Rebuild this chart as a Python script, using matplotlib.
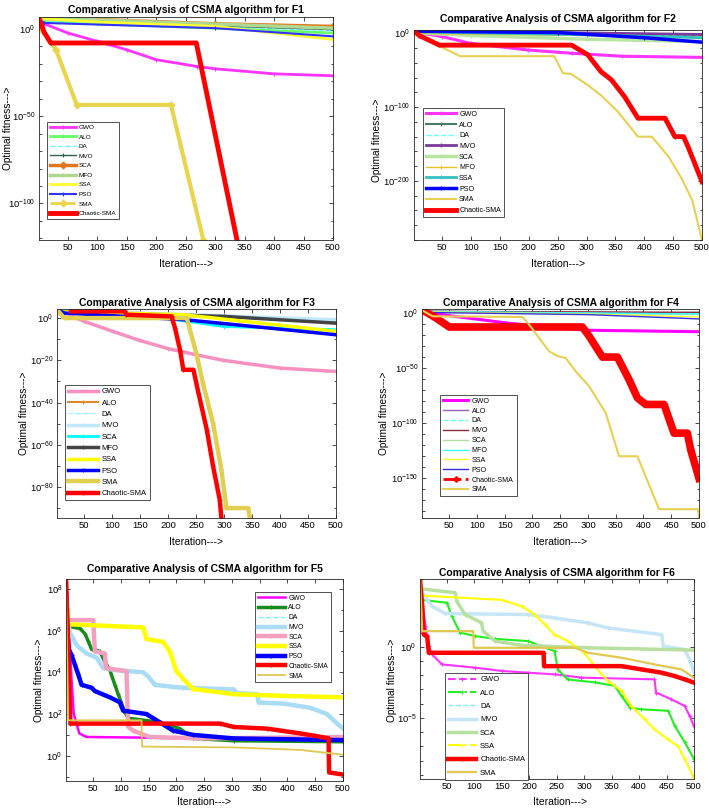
import numpy as np
import matplotlib
matplotlib.use('Agg')
import matplotlib.pyplot as plt
import matplotlib.ticker as ticker

plt.rcParams['font.family'] = ['Liberation Sans', 'DejaVu Sans']
plt.rcParams['axes.linewidth'] = 0.6

W, H = 709, 808

# ---- data: (iteration, log10 fitness) breakpoints ----
# F1
f1_gwo = ([1, 10, 50, 100, 150, 200, 270, 300, 400, 500], [5.5, 3, -2.3, -7, -11.9, -17.6, -21.5, -22.8, -25.7, -26.8])
f1_alo = ([1, 100, 300, 500], [5, 3, 0.5, -2.3])
f1_da = ([1, 200, 500], [5, 2.5, -1])
f1_mvo = ([1, 200, 500], [6, 3, -0.4])
f1_sca = ([1, 100, 300, 500], [6.5, 5.5, 3, 1.5])
f1_mfo = ([1, 200, 500], [6.5, 4, 0.5])
f1_ssa = ([1, 100, 300, 500], [6, 4, 1.5, -6])
f1_pso = ([1, 10, 300, 500], [6, 3.5, 0.5, -4.2])
f1_sma = ([1, 5, 30, 65, 225, 280], [6, 0, -12, -43.5, -43.5, -121])
f1_csma = ([1, 10, 21, 268, 337], [6, -2, -8, -8, -121])

# F2
f2_gwo = ([1, 50, 99, 198, 274, 361, 500], [2, -4.5, -13.6, -22.6, -27, -31, -32.6])
f2_alo = ([1, 250, 500], [2, 0, -3])
f2_da = ([1, 500], [2, -4])
f2_mvo = ([1, 250, 500], [2.5, 1, -1.5])
f2_sca = ([1, 100, 300, 500], [1, -3, -8, -11])
f2_mfo = ([1, 500], [0, -5])
f2_ssa = ([1, 300, 500], [2, -2, -6])
f2_pso = ([1, 250, 400, 500], [3, 1, -6, -12])
f2_sma = ([1, 35, 81, 244, 259, 273, 302, 325, 354, 389, 413, 442, 465, 483, 500],
          [2, -13.6, -31, -31, -54, -55, -70, -84, -106, -140, -140, -167, -197, -226, -280])
f2_csma = ([1, 10, 45, 274, 302, 325, 343, 366, 389, 436, 453, 468, 476, 500],
           [4, -3, -16, -16, -29, -52, -63, -86, -115, -115, -140, -140, -154, -201])

# F3
f3_gwo = ([1, 50, 101, 149, 200, 250, 298, 400, 500], [4, -1.6, -6.3, -10.6, -14.5, -17.4, -20, -23.7, -25.3])
f3_alo = ([1, 200, 500], [4, 2, -1.6])
f3_da = ([1, 200, 500], [3.5, 1.5, -1])
f3_mvo = ([1, 250, 500], [3.5, 1.5, -0.8])
f3_sca = ([1, 150, 300, 500], [3, 1.5, -4, -5.5])
f3_mfo = ([1, 300, 500], [3, 0.8, -2.4])
f3_ssa = ([1, 227, 500], [3, 1.6, -6.3])
f3_pso = ([1, 14, 230, 292, 500], [4, 2.4, -0.8, -2.4, -7.9])
f3_sma = ([1, 14, 233, 250, 262, 280, 295, 304, 343, 346], [4, 0, 0, -16.6, -30.8, -49.7, -71.8, -90, -90, -94.7])
f3_csma = ([26, 122, 125, 206, 212, 221, 227, 245, 254, 269, 280, 292, 295],
           [3.2, 3.2, 1.6, 0.8, -4.7, -15, -24.5, -24.5, -35.5, -53, -70, -86, -94.7])

# F4
f4_gwo = ([1, 50, 152, 254, 302, 500], [1.5, -2.4, -9, -14.2, -15.7, -17])
f4_alo = ([1, 500], [1.5, 0])
f4_da = ([1, 500], [1.5, -0.5])
f4_mvo = ([1, 500], [1.5, 0.6])
f4_sca = ([1, 500], [1, -1.5])
f4_mfo = ([1, 500], [1.5, -1])
f4_ssa = ([1, 300, 500], [1, -1, -3.6])
f4_pso = ([1, 300, 500], [0.5, -1.5, -5.4])
f4_csma = ([1, 26, 50, 290, 302, 326, 353, 374, 389, 404, 437, 455, 479, 485, 500],
           [3, -4.5, -12.7, -12.7, -21, -40, -40, -60.5, -77, -83, -83, -109, -109, -124, -150])
f4_sma = ([1, 20, 182, 194, 230, 245, 260, 278, 302, 332, 356, 389, 428, 499, 500],
          [2.4, -3, -3.6, -10.6, -34.8, -39, -41, -53, -66.5, -90.7, -130, -130, -178, -178, -186])

# F5
f5_gwo = ([1, 5, 8, 11, 15, 25, 38, 200, 500], [7.97, 6.4, 5.15, 3.6, 2.0, 1.07, 0.9, 0.85, 0.75])
f5_alo = ([1, 5, 26, 35, 41, 47, 62, 71, 80, 89, 95, 107, 113, 170, 206, 230, 303, 500],
          [7.2, 6.2, 6.1, 5.85, 5.5, 5.1, 5.0, 4.5, 4.1, 3.4, 2.95, 2.1, 1.8, 1.6, 1.3, 0.83, 0.72, 0.67])
f5_da = ([1, 5], [7, 6])
f5_mvo = ([1, 8, 20, 38, 56, 68, 92, 140, 149, 161, 194, 212, 303, 309, 345, 348, 393, 441, 471, 489, 500],
          [6.9, 5.9, 5.3, 4.9, 4.7, 4.2, 4.1, 4.0, 3.8, 3.4, 3.3, 3.26, 3.18, 3.0, 2.95, 2.55, 2.5, 2.3, 2.0, 1.55, 1.3])
f5_sca = ([1, 5, 50, 53, 71, 73, 110, 113, 122, 152, 243, 500],
          [7.2, 6.5, 6.5, 5.0, 4.9, 4.2, 4.05, 1.4, 1.2, 0.9, 0.83, 0.9])
f5_ssa = ([1, 5, 140, 146, 176, 188, 200, 215, 230, 303, 393, 500],
          [7.65, 6.3, 6.15, 5.6, 5.45, 5.0, 4.05, 3.6, 3.2, 2.95, 2.87, 2.8])
f5_pso = ([1, 5, 11, 17, 23, 29, 47, 53, 80, 98, 104, 146, 170, 194, 230, 303, 500],
          [7.8, 5.15, 4.83, 4.36, 3.9, 3.4, 3.26, 3.1, 2.8, 2.56, 2.16, 2.0, 1.6, 1.2, 1.0, 0.83, 0.75])
f5_csma = ([1, 5, 9, 279, 303, 363, 423, 459, 474, 475, 500],
           [8.6, 5.15, 1.54, 1.54, 1.38, 1.3, 1.07, 0.91, 0.83, -0.8, -0.9])
f5_sma = ([1, 3, 5, 137, 138, 303, 423, 500], [8.1, 4.8, 1.7, 1.7, 0.44, 0.4, 0.28, 0.05])

# F6
f6_gwo = ([1, 5, 11, 17, 23, 41, 102, 150, 198, 247, 295, 428, 431, 459, 483, 492, 500],
          [4.77, 3.3, 1.45, 0.05, -0.54, -1.24, -1.47, -1.7, -1.82, -1.94, -2.17, -2.29, -3.22, -3.7, -4.16, -4.86, -5.6])
f6_alo = ([1, 5, 50, 59, 74, 102, 138, 198, 221, 246, 252, 270, 319, 356, 368, 383, 404, 453, 465, 483, 500],
          [4.25, 3.3, 3.1, 2.15, 1.0, 0.75, 0.56, 0.4, 0.05, -0.3, -1.6, -2.3, -2.5, -2.75, -3.46, -4.28, -4.4, -4.5, -5.56, -6.7, -7.9])
f6_da = ([1, 5], [4.5, 3.5])
f6_mvo = ([1, 23, 47, 198, 246, 307, 343, 441, 444, 483, 492, 500],
          [4.0, 2.85, 2.34, 2.27, 2.03, 1.68, 1.33, 0.86, 0.05, -0.19, -0.9, -1.8])
f6_sca = ([1, 5, 65, 68, 83, 113, 116, 138, 186, 307, 500],
          [4.25, 4.07, 3.8, 3.2, 2.27, 1.7, 1.1, 0.4, 0.1, -0.07, -0.23])
f6_ssa = ([1, 5, 150, 186, 210, 228, 246, 270, 300, 319, 343, 368, 386, 410, 428, 452, 471, 483, 500],
          [4.0, 3.6, 3.3, 2.85, 2.27, 1.57, 0.86, 0.4, -0.42, -1.36, -2.4, -3.1, -4.16, -5.1, -5.8, -6.5, -7.0, -7.9, -9.25])
f6_csma = ([1, 5, 8, 14, 17, 226, 227, 368, 404, 441, 465, 483, 500],
           [4.77, 2.85, 0.86, 0.75, -0.42, -0.42, -1.36, -1.36, -1.59, -1.82, -2.06, -2.29, -2.52])
f6_sma = ([1, 5, 98, 99, 283, 307, 368, 428, 477, 500],
          [4.77, 1.1, 1.1, -0.07, -0.07, -0.42, -0.77, -1.24, -1.59, -2.17])


def draw(ax, pts, label, color, lw=1.0, ls='-', marker='+', ms=3):
    x, y = pts
    ax.plot(x, np.power(10.0, np.array(y, dtype=float)), color=color, lw=lw, ls=ls,
            marker=marker, ms=ms, mew=0.8, label=label)


def setup(ax, title, ylim, major, minor, tpad, xl, yl):
    ax.set_yscale('log')
    ax.set_xlim(1, 500)
    ax.set_ylim(10.0 ** ylim[0], 10.0 ** ylim[1])
    ax.set_xticks(range(50, 501, 50))
    ax.yaxis.set_major_locator(ticker.FixedLocator([10.0 ** m for m in major]))
    ax.yaxis.set_minor_locator(ticker.FixedLocator([10.0 ** m for m in minor]))
    ax.yaxis.set_minor_formatter(ticker.NullFormatter())
    ax.tick_params(direction='in', top=True, right=True, labelsize=6.8, length=3, width=0.5, pad=2.5)
    ax.tick_params(which='minor', direction='in', right=True, length=1.8, width=0.5)
    for s in ax.spines.values():
        s.set_color('#262626')
    ax.set_title(title, fontsize=7.5, fontweight='bold', pad=tpad)
    ax.set_xlabel('Iteration--->', fontsize=7.5)
    ax.set_ylabel('Optimal fitness--->', fontsize=7.3)
    # label positions in pixels: xlabel (centre x, top y), ylabel (right x, centre y)
    ax.xaxis.set_label_coords(xl[0] / W, 1 - xl[1] / H, transform=fig.transFigure)
    ax.yaxis.set_label_coords(yl[0] / W, 1 - yl[1] / H, transform=fig.transFigure)


def legend(ax, px, py, fs, ls, hl, styles=None):
    lg = ax.legend(loc='upper left', bbox_to_anchor=(px / W, 1 - py / H), bbox_transform=fig.transFigure,
                   fontsize=fs, fancybox=False, framealpha=1, edgecolor='#333333', borderaxespad=0,
                   handlelength=hl, labelspacing=ls, borderpad=0.4, handletextpad=0.5)
    lg.get_frame().set_linewidth(0.6)
    if styles:
        for i, s in styles.items():
            lg.get_lines()[i].set_linestyle(s)
    return lg


def box(l, t, r, b):
    return [l / W, 1 - b / H, (r - l) / W, (b - t) / H]


fig = plt.figure(figsize=(W / 100, H / 100), dpi=100)

# ---------------- F1 ----------------
ax = fig.add_axes(box(39, 17, 333, 240))
draw(ax, f1_gwo, 'GWO', '#ff33ff', 2)
draw(ax, f1_alo, 'ALO', '#66ff66', 2)
draw(ax, f1_da, 'DA', '#66ffff', 1, '--', None)
draw(ax, f1_mvo, 'MVO', '#2f5f4f', 1)
draw(ax, f1_sca, 'SCA', '#e07820', 2.5, '-', 'D', 3.5)
draw(ax, f1_mfo, 'MFO', '#b0d890', 2.5)
draw(ax, f1_ssa, 'SSA', '#ffff33', 2)
draw(ax, f1_pso, 'PSO', '#3333ff', 1.5)
draw(ax, f1_sma, 'SMA', '#e8d44d', 3, '-', 'D', 3.5)
draw(ax, f1_csma, 'Chaotic-SMA', '#ff0000', 3.5)
setup(ax, 'Comparative Analysis of CSMA algorithm for F1', (-121, 6.9), [0, -50, -100],
      range(-120, 7, 10), 3, (186, 259), (13, 128))
lg = legend(ax, 47, 122, 4.6, 0.64, 4.1, {8: '--'})
lg.get_lines()[8].set_linewidth(2)

# ---------------- F2 ----------------
ax = fig.add_axes(box(414, 30, 702, 240))
draw(ax, f2_gwo, 'GWO', '#ff33ff', 2.2)
draw(ax, f2_alo, 'ALO', '#4a7a6a', 1.5)
draw(ax, f2_da, 'DA', '#66ffff', 1, '--', None)
draw(ax, f2_mvo, 'MVO', '#7a3a9a', 2)
draw(ax, f2_sca, 'SCA', '#b8e6a0', 2.5)
draw(ax, f2_mfo, 'MFO', '#f0c020', 1)
draw(ax, f2_ssa, 'SSA', '#33c0c0', 2)
draw(ax, f2_pso, 'PSO', '#0000ff', 2.5)
draw(ax, f2_sma, 'SMA', '#e8d050', 1.5, '-', None)
draw(ax, f2_csma, 'Chaotic-SMA', '#ff0000', 3.5)
setup(ax, 'Comparative Analysis of CSMA algorithm for F2', (-280, 4.5), [0, -100, -200],
      range(-280, 5, 20), 6, (558, 259), (382, 140))
legend(ax, 423, 108, 5.1, 0.52, 4.2)

# ---------------- F3 ----------------
ax = fig.add_axes(box(57, 309, 336, 518))
draw(ax, f3_gwo, 'GWO', '#f78fc0', 2.5)
draw(ax, f3_alo, 'ALO', '#e08a30', 1.5)
draw(ax, f3_da, 'DA', '#99ffff', 1, '--', None)
draw(ax, f3_mvo, 'MVO', '#bfe8ff', 2.5)
draw(ax, f3_sca, 'SCA', '#00ffff', 2)
draw(ax, f3_mfo, 'MFO', '#444444', 2.5)
draw(ax, f3_ssa, 'SSA', '#ffff00', 2.5)
draw(ax, f3_pso, 'PSO', '#0000ff', 2.5)
draw(ax, f3_sma, 'SMA', '#e0cf50', 3.2)
draw(ax, f3_csma, 'Chaotic-SMA', '#ff0000', 3.2)
setup(ax, 'Comparative Analysis of CSMA algorithm for F3', (-94.7, 4.3), [0, -20, -40, -60, -80],
      range(-90, 5, 10), 2, (196, 537), (29, 413))
legend(ax, 65, 385, 5.5, 0.52, 3.9)

# ---------------- F4 ----------------
ax = fig.add_axes(box(422, 309, 699, 518))
draw(ax, f4_gwo, 'GWO', '#ff00ff', 2.2, '-', None)
draw(ax, f4_alo, 'ALO', '#9a60b0', 1, '-', None)
draw(ax, f4_da, 'DA', '#66ffff', 1, '--', None)
draw(ax, f4_mvo, 'MVO', '#8b2a3a', 1, '-', None)
draw(ax, f4_sca, 'SCA', '#b0e0a0', 1, '-', None)
draw(ax, f4_mfo, 'MFO', '#33ffff', 1, '-', None)
draw(ax, f4_ssa, 'SSA', '#ffff33', 1, '-', None)
draw(ax, f4_pso, 'PSO', '#3030e0', 1, '-', None)
draw(ax, f4_csma, 'Chaotic-SMA', '#ff0000', 5.5, '-', 'D', 3)
draw(ax, f4_sma, 'SMA', '#e8d050', 1.5, '-', None)
setup(ax, 'Comparative Analysis of CSMA algorithm for F4', (-186, 3.6), [0, -50, -100, -150],
      range(-180, 4, 10), 2, (560, 537), (389, 413))
lg = legend(ax, 440, 395, 5.1, 0.4, 3.6, {8: '-.'})
lg.get_lines()[8].set_linewidth(2)

# ---------------- F5 ----------------
ax = fig.add_axes(box(66, 579, 343, 781))
draw(ax, f5_gwo, 'GWO', '#ff00ff', 1.8, '-', None)
draw(ax, f5_alo, 'ALO', '#1a8a1a', 2.5)
draw(ax, f5_da, 'DA', '#88eeff', 1, '--', None)
draw(ax, f5_mvo, 'MVO', '#aadcf5', 3.2)
draw(ax, f5_sca, 'SCA', '#f4a0c0', 3.2)
draw(ax, f5_ssa, 'SSA', '#ffff00', 3.2)
draw(ax, f5_pso, 'PSO', '#0000ff', 3.2)
draw(ax, f5_csma, 'Chaotic-SMA', '#ff0000', 3.2)
draw(ax, f5_sma, 'SMA', '#e0c850', 1.3, '-', None)
setup(ax, 'Comparative Analysis of CSMA algorithm for F5', (-1.21, 8.47), [0, 2, 4, 6, 8],
      [-1, 1, 3, 5, 7], 5, (204, 797), (44, 680))
legend(ax, 255, 592, 4.9, 0.4, 4.0)

# ---------------- F6 ----------------
ax = fig.add_axes(box(420, 579, 694, 779))
draw(ax, f6_gwo, 'GWO', '#ff33ff', 1.5)
draw(ax, f6_alo, 'ALO', '#22ee22', 1.5)
draw(ax, f6_da, 'DA', '#88eeff', 1, '--', None)
draw(ax, f6_mvo, 'MVO', '#c6e6f8', 2.5)
draw(ax, f6_sca, 'SCA', '#b8e0a0', 2.5)
draw(ax, f6_ssa, 'SSA', '#ffff00', 1.5)
draw(ax, f6_csma, 'Chaotic-SMA', '#ff0000', 3.2)
draw(ax, f6_sma, 'SMA', '#e0c850', 1.6, '-', None)
setup(ax, 'Comparative Analysis of CSMA algorithm for F6', (-9.3, 4.77), [0, -5],
      range(-9, 5), 2, (560, 797), (397, 680))
legend(ax, 445, 673, 5.5, 0.78, 3.7, {0: '--', 1: '-.', 5: '-.'})

fig.savefig('out.png', dpi=100)
